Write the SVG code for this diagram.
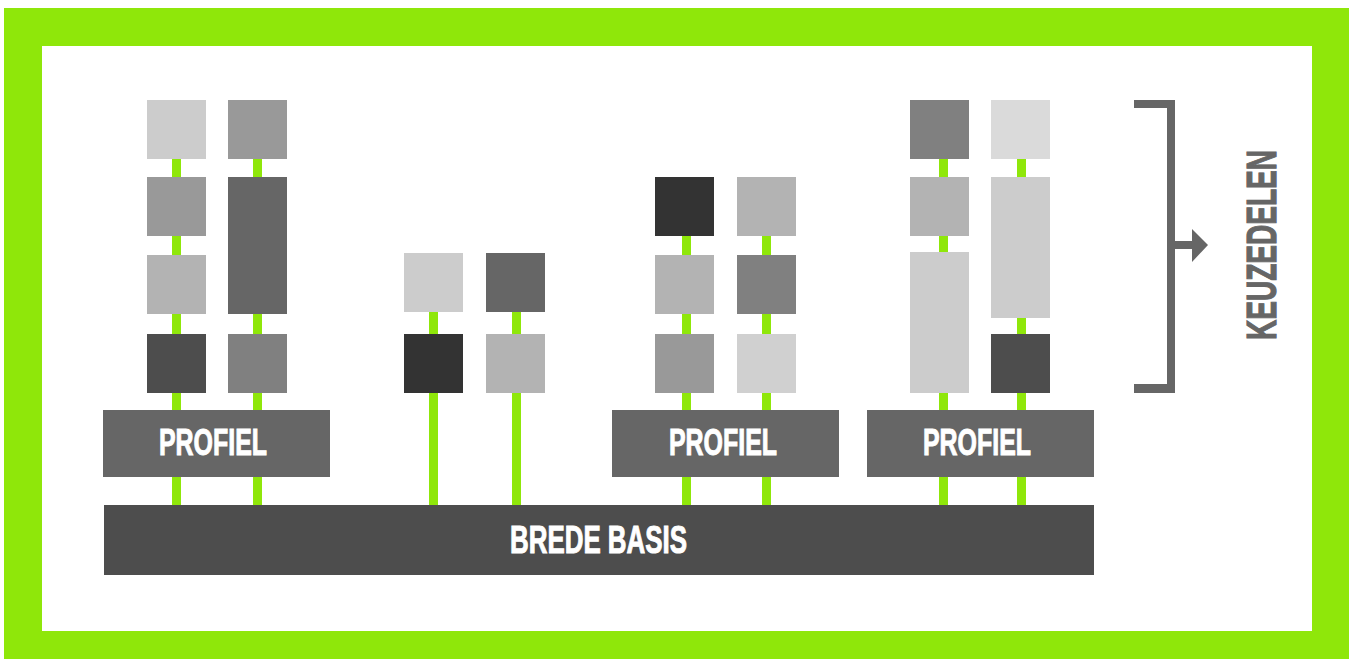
<svg xmlns="http://www.w3.org/2000/svg" width="1353" height="659" viewBox="0 0 1353 659">
<style>
.lnk{fill:#8fe70a}
.lbl{font-family:"Liberation Sans",Arial,sans-serif;font-weight:bold;fill:#ffffff;stroke:#ffffff;stroke-width:1;text-anchor:middle}
.c33{fill:#333333}.c4d{fill:#4d4d4d}.c66{fill:#666666}.c80{fill:#808080}.c99{fill:#999999}.cb3{fill:#b3b3b3}.ccc{fill:#cccccc}.cd0{fill:#d0d0d0}.cda{fill:#dadada}
</style>
<g id="frame">
<rect x="4" y="8" width="1345" height="651" fill="#8fe70a"/>
<rect x="42" y="46" width="1270" height="585" fill="#ffffff"/>
</g>
<g id="connectors">
<rect class="lnk" x="172" y="159" width="9" height="346"/>
<rect class="lnk" x="253" y="159" width="9" height="346"/>
<rect class="lnk" x="429" y="312" width="9" height="193"/>
<rect class="lnk" x="512" y="312" width="9" height="193"/>
<rect class="lnk" x="682" y="236" width="9" height="269"/>
<rect class="lnk" x="762" y="236" width="9" height="269"/>
<rect class="lnk" x="939" y="159" width="9" height="346"/>
<rect class="lnk" x="1017" y="159" width="9" height="346"/>
</g>
<g id="group1">
<rect class="ccc" x="147" y="100" width="59" height="59"/>
<rect class="c99" x="147" y="177" width="59" height="59"/>
<rect class="cb3" x="147" y="255" width="59" height="59"/>
<rect class="c4d" x="147" y="334" width="59" height="59"/>
<rect class="c99" x="228" y="100" width="59" height="59"/>
<rect class="c66" x="228" y="177" width="59" height="137"/>
<rect class="c80" x="228" y="334" width="59" height="59"/>
</g>
<g id="group2">
<rect class="ccc" x="404" y="253" width="59" height="59"/>
<rect class="c33" x="404" y="334" width="59" height="59"/>
<rect class="c66" x="486" y="253" width="59" height="59"/>
<rect class="cb3" x="486" y="334" width="59" height="59"/>
</g>
<g id="group3">
<rect class="c33" x="655" y="177" width="59" height="59"/>
<rect class="cb3" x="655" y="255" width="59" height="59"/>
<rect class="c99" x="655" y="334" width="59" height="59"/>
<rect class="cb3" x="737" y="177" width="59" height="59"/>
<rect class="c80" x="737" y="255" width="59" height="59"/>
<rect class="cd0" x="737" y="334" width="59" height="59"/>
</g>
<g id="group4">
<rect class="c80" x="910" y="100" width="59" height="59"/>
<rect class="cb3" x="910" y="177" width="59" height="59"/>
<rect class="ccc" x="910" y="252" width="59" height="141"/>
<rect class="cda" x="991" y="100" width="59" height="59"/>
<rect class="ccc" x="991" y="177" width="59" height="141"/>
<rect class="c4d" x="991" y="334" width="59" height="59"/>
</g>
<g id="profiel1">
<rect class="c66" x="103" y="410" width="227" height="67"/>
<text class="lbl" x="213" y="455" font-size="37" textLength="108" lengthAdjust="spacingAndGlyphs">PROFIEL</text>
</g>
<g id="profiel2">
<rect class="c66" x="612" y="410" width="227" height="67"/>
<text class="lbl" x="723" y="455" font-size="37" textLength="108" lengthAdjust="spacingAndGlyphs">PROFIEL</text>
</g>
<g id="profiel3">
<rect class="c66" x="867" y="410" width="227" height="67"/>
<text class="lbl" x="977" y="455" font-size="37" textLength="108" lengthAdjust="spacingAndGlyphs">PROFIEL</text>
</g>
<g id="brede-basis">
<rect class="c4d" x="104" y="505" width="990" height="70"/>
<text class="lbl" x="598.5" y="553" font-size="38" textLength="177" lengthAdjust="spacingAndGlyphs">BREDE BASIS</text>
</g>
<g id="keuzedelen">
<path d="M1134 100H1175V393H1134V384H1167V108H1134Z" fill="#666666"/>
<rect x="1175" y="241" width="18" height="8" fill="#666666"/>
<polygon points="1192,229 1208,245 1192,262" fill="#666666"/>
<text transform="translate(1276 245) rotate(-90)" x="0" y="0" font-family="Liberation Sans,Arial,sans-serif" font-weight="bold" font-size="43" fill="#666666" stroke="#666666" stroke-width="1.2" text-anchor="middle" textLength="190" lengthAdjust="spacingAndGlyphs">KEUZEDELEN</text>
</g>
</svg>
